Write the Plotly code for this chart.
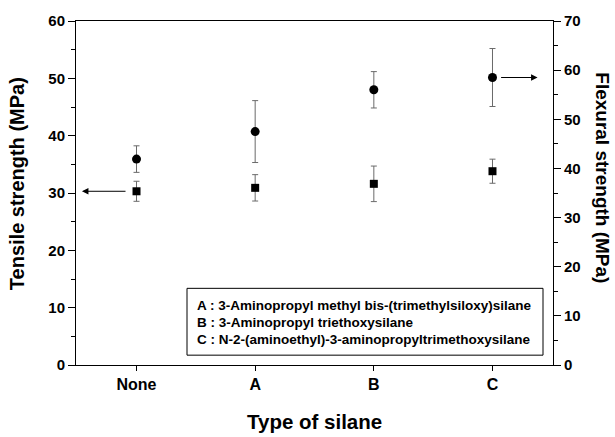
import plotly.graph_objects as go

categories = ["None", "A", "B", "C"]
tensile = [30.3, 30.9, 31.6, 33.8]
tensile_err = [1.75, 2.3, 3.1, 2.1]
flexural = [41.9, 47.5, 56.0, 58.5]
flexural_err = [2.7, 6.3, 3.7, 5.9]
legend_lines = [
    "A : 3-Aminopropyl methyl bis-(trimethylsiloxy)silane",
    "B : 3-Aminopropyl triethoxysilane",
    "C : N-2-(aminoethyl)-3-aminopropyltrimethoxysilane",
]

FONT = "Arial, Liberation Sans, sans-serif"
xs = list(range(len(categories)))

# plot area in pixels (from reference)
L, R, T, B = 76, 553, 15, 365
W, H = 615, 437
PW, PH = R - L, B - T


def px(x):
    return (x - L) / PW


def py(y):
    return (B - y) / PH


fig = go.Figure()
fig.add_trace(go.Scatter(
    x=xs, y=tensile, mode="markers",
    marker=dict(symbol="square", size=8, color="black"),
    error_y=dict(type="data", array=tensile_err, color="#6a6a6a", thickness=1, width=3),
    yaxis="y", showlegend=False,
))
fig.add_trace(go.Scatter(
    x=xs, y=flexural, mode="markers",
    marker=dict(symbol="circle", size=9, color="black"),
    error_y=dict(type="data", array=flexural_err, color="#6a6a6a", thickness=1, width=3),
    yaxis="y2", showlegend=False,
))

axis_common = dict(
    showline=True, linecolor="black", linewidth=1,
    ticks="outside", tickcolor="black", ticklen=7, tickwidth=1,
    showgrid=False, zeroline=False,
    tickfont=dict(family=FONT, size=15, color="black"),
)

fig.update_layout(
    width=W, height=H,
    margin=dict(l=L, r=W - R, t=T, b=H - B, pad=0),
    paper_bgcolor="white", plot_bgcolor="white",
    font=dict(family=FONT, color="black"),
    xaxis=dict(
        **{**axis_common, "ticklen": 5, "tickfont": dict(family=FONT, size=16, color="black")},
        range=[-0.51, 3.51], tickvals=xs, ticktext=["<b>%s</b>" % c for c in categories],
        mirror=True,
    ),
    yaxis=dict(
        **axis_common,
        range=[0, 60], tickvals=list(range(0, 61, 10)),
        ticktext=["<b>%d</b>" % v for v in range(0, 61, 10)],
        minor=dict(ticks="outside", ticklen=4, tickcolor="black", dtick=5, tick0=0, showgrid=False),
    ),
    yaxis2=dict(
        **axis_common,
        overlaying="y", side="right", anchor="x",
        range=[0, 70], tickvals=list(range(0, 71, 10)),
        ticktext=["<b>%d</b>" % v for v in range(0, 71, 10)],
        minor=dict(ticks="outside", ticklen=4, tickcolor="black", dtick=5, tick0=0, showgrid=False),
    ),
)

# axis titles
fig.add_annotation(text="<b>Type of silane</b>", xref="paper", yref="paper",
                   x=px(314), y=py(422), xanchor="center", yanchor="middle",
                   showarrow=False, font=dict(family=FONT, size=20.5, color="black"))
fig.add_annotation(text="<b>Tensile strength (MPa)</b>", xref="paper", yref="paper",
                   x=px(17), y=py(181), xanchor="center", yanchor="middle", textangle=-90,
                   showarrow=False, font=dict(family=FONT, size=20, color="black"))
fig.add_annotation(text="<b>Flexural strength (MPa)</b>", xref="paper", yref="paper",
                   x=px(603), y=py(174), xanchor="center", yanchor="middle", textangle=90,
                   showarrow=False, font=dict(family=FONT, size=19, color="black"))

# arrows pointing to respective axes
fig.add_annotation(x=xs[0] - 0.46, y=tensile[0], ax=xs[0] - 0.08, ay=tensile[0],
                   xref="x", yref="y", axref="x", ayref="y", text="",
                   showarrow=True, arrowhead=2, arrowsize=1.3, arrowwidth=1, arrowcolor="black")
fig.add_annotation(x=xs[3] + 0.38, y=flexural[3], ax=xs[3] + 0.06, ay=flexural[3],
                   xref="x", yref="y2", axref="x", ayref="y2", text="",
                   showarrow=True, arrowhead=2, arrowsize=1.3, arrowwidth=1, arrowcolor="black")

# legend-like text box
fig.add_shape(type="rect", xref="paper", yref="paper",
              x0=px(187), x1=px(543), y0=py(355), y1=py(287),
              line=dict(color="black", width=1), fillcolor="rgba(0,0,0,0)")
for i, line in enumerate(legend_lines):
    fig.add_annotation(text="<b>%s</b>" % line, xref="paper", yref="paper",
                       x=px(195), y=py(304 + 17.5 * i),
                       xanchor="left", yanchor="middle", showarrow=False,
                       font=dict(family=FONT, size=13.5, color="black"))

fig.write_html("out.html", config={"displayModeBar": False},
               post_script="document.body.style.margin='0';")
